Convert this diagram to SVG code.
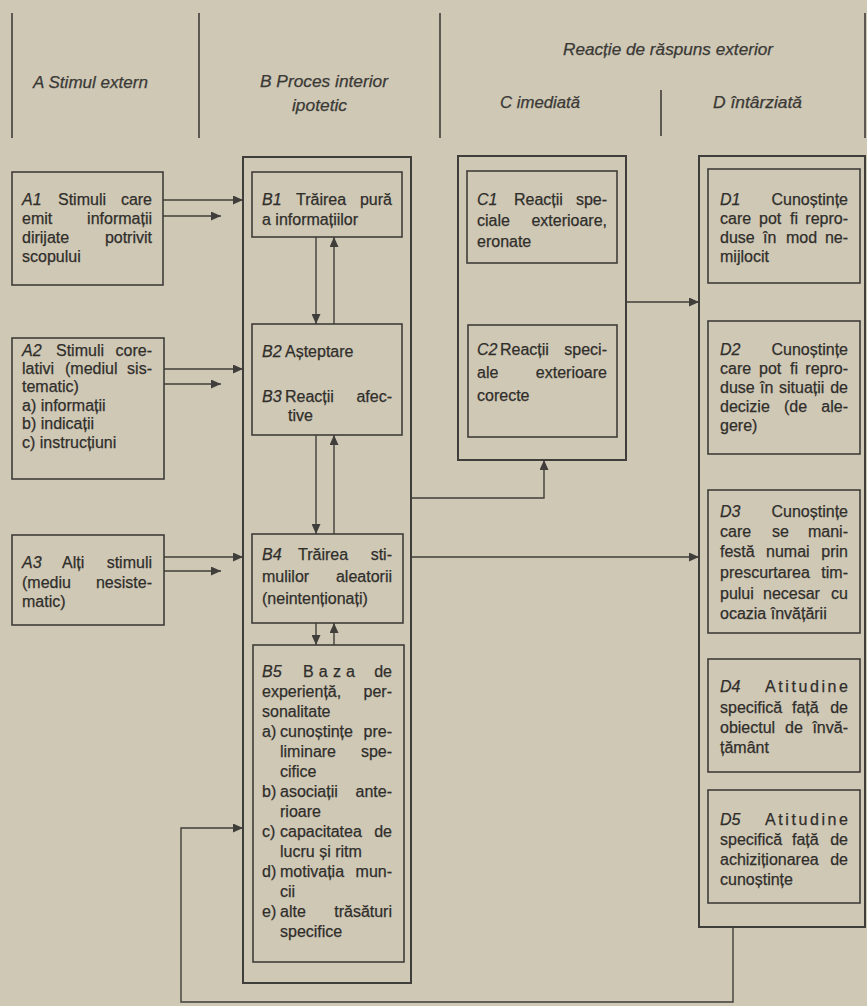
<svg xmlns="http://www.w3.org/2000/svg" width="867" height="1006" viewBox="0 0 867 1006">
  <style>
    .bg { fill: #cfc8b5; }
    .col { stroke: #3f3e3a; stroke-width: 1.6; }
    .outer { fill: none; stroke: #3f3e3a; stroke-width: 2; }
    .inner { fill: none; stroke: #3f3e3a; stroke-width: 1.6; }
    .con { fill: none; stroke: #3f3e3a; stroke-width: 1.4; }
    .h { font-family: "Liberation Sans", Arial, sans-serif; font-size: 16.5px; font-style: italic; fill: #3a3935; stroke: #3a3935; stroke-width: 0.25; }
    .t { font-family: "Liberation Sans", Arial, sans-serif; font-size: 16px; fill: #2f2e2b; stroke: #2f2e2b; stroke-width: 0.25; }
    .i { font-style: italic; }
    .e { text-anchor: end; }
  </style>
  <defs>
    <marker id="arr" markerUnits="userSpaceOnUse" markerWidth="11" markerHeight="9" refX="10" refY="4.5" orient="auto">
      <path d="M0,0 L10,4.5 L0,9 z" fill="#3f3e3a"/>
    </marker>
  </defs>

  <rect class="bg" x="0" y="0" width="867" height="1006"/>

  <!-- column header -->
  <g id="header">
    <line class="col" x1="12" y1="13" x2="12" y2="138"/>
    <line class="col" x1="199" y1="13" x2="199" y2="138"/>
    <line class="col" x1="440" y1="13" x2="440" y2="138"/>
    <line class="col" x1="661" y1="90" x2="661" y2="136"/>
    <line class="col" x1="865" y1="13" x2="865" y2="138"/>
    <text class="h" x="33" y="88" textLength="115" lengthAdjust="spacingAndGlyphs">A Stimul extern</text>
    <text class="h" x="260" y="87" textLength="128" lengthAdjust="spacingAndGlyphs">B Proces interior</text>
    <text class="h" x="292" y="111" textLength="55" lengthAdjust="spacingAndGlyphs">ipotetic</text>
    <text class="h" x="563" y="55" textLength="210" lengthAdjust="spacingAndGlyphs">Reacție de răspuns exterior</text>
    <text class="h" x="500" y="108" textLength="80" lengthAdjust="spacingAndGlyphs">C imediată</text>
    <text class="h" x="713" y="108" textLength="89" lengthAdjust="spacingAndGlyphs">D întârziată</text>
  </g>

  <!-- A: external stimuli -->
  <g id="A1">
    <rect class="inner" x="12" y="172" width="151" height="113"/>
    <text class="t" y="205"><tspan x="22" class="i">A1</tspan><tspan x="58">Stimuli</tspan><tspan x="152" class="e">care</tspan></text>
    <text class="t" y="224"><tspan x="22">emit</tspan><tspan x="152" class="e">informații</tspan></text>
    <text class="t" y="243"><tspan x="22">dirijate</tspan><tspan x="152" class="e">potrivit</tspan></text>
    <text class="t" x="22" y="262">scopului</text>
  </g>
  <g id="A2">
    <rect class="inner" x="12" y="338" width="152" height="141"/>
    <text class="t" y="356"><tspan x="22" class="i">A2</tspan><tspan x="56">Stimuli</tspan><tspan x="152" class="e">core-</tspan></text>
    <text class="t" y="374"><tspan x="22">lativi</tspan><tspan x="65">(mediul</tspan><tspan x="152" class="e">sis-</tspan></text>
    <text class="t" x="22" y="392">tematic)</text>
    <text class="t" x="22" y="411">a) informații</text>
    <text class="t" x="22" y="429">b) indicații</text>
    <text class="t" x="22" y="448">c) instrucțiuni</text>
  </g>
  <g id="A3">
    <rect class="inner" x="12" y="535" width="152" height="90"/>
    <text class="t" y="568"><tspan x="22" class="i">A3</tspan><tspan x="62">Alți</tspan><tspan x="152" class="e">stimuli</tspan></text>
    <text class="t" y="588"><tspan x="22">(mediu</tspan><tspan x="152" class="e">nesiste-</tspan></text>
    <text class="t" x="22" y="607">matic)</text>
  </g>

  <!-- B: hypothetical inner process -->
  <g id="B">
    <rect class="outer" x="243" y="157" width="168" height="826"/>
  </g>
  <g id="B1">
    <rect class="inner" x="252" y="172" width="150" height="65"/>
    <text class="t" y="205"><tspan x="262" class="i">B1</tspan><tspan x="296">Trăirea</tspan><tspan x="392" class="e">pură</tspan></text>
    <text class="t" x="262" y="225">a informațiilor</text>
  </g>
  <g id="B2">
    <rect class="inner" x="252" y="324" width="150" height="111"/>
    <text class="t" y="357"><tspan x="262" class="i">B2</tspan><tspan x="285">Așteptare</tspan></text>
    <text class="t" y="402"><tspan x="262" class="i">B3</tspan><tspan x="285">Reacții</tspan><tspan x="392" class="e">afec-</tspan></text>
    <text class="t" x="288" y="421">tive</text>
  </g>
  <g id="B4">
    <rect class="inner" x="252" y="534" width="151" height="89"/>
    <text class="t" y="560"><tspan x="262" class="i">B4</tspan><tspan x="298">Trăirea</tspan><tspan x="392" class="e">sti-</tspan></text>
    <text class="t" y="582"><tspan x="262">mulilor</tspan><tspan x="392" class="e">aleatorii</tspan></text>
    <text class="t" x="262" y="604">(neintenționați)</text>
  </g>
  <g id="B5">
    <rect class="inner" x="253" y="645" width="151" height="317"/>
    <text class="t" y="677"><tspan x="262" class="i">B5</tspan><tspan x="303" textLength="52">Baza</tspan><tspan x="392" class="e">de</tspan></text>
    <text class="t" y="697"><tspan x="262">experiență,</tspan><tspan x="392" class="e">per-</tspan></text>
    <text class="t" x="262" y="717">sonalitate</text>
    <text class="t" y="737"><tspan x="262">a)</tspan><tspan x="280">cunoștințe</tspan><tspan x="392" class="e">pre-</tspan></text>
    <text class="t" y="757"><tspan x="280">liminare</tspan><tspan x="392" class="e">spe-</tspan></text>
    <text class="t" x="280" y="777">cifice</text>
    <text class="t" y="797"><tspan x="262">b)</tspan><tspan x="280">asociații</tspan><tspan x="392" class="e">ante-</tspan></text>
    <text class="t" x="280" y="817">rioare</text>
    <text class="t" y="837"><tspan x="262">c)</tspan><tspan x="280">capacitatea</tspan><tspan x="392" class="e">de</tspan></text>
    <text class="t" x="280" y="857">lucru și ritm</text>
    <text class="t" y="877"><tspan x="262">d)</tspan><tspan x="280">motivația</tspan><tspan x="392" class="e">mun-</tspan></text>
    <text class="t" x="280" y="897">cii</text>
    <text class="t" y="917"><tspan x="262">e)</tspan><tspan x="280">alte</tspan><tspan x="392" class="e">trăsături</tspan></text>
    <text class="t" x="280" y="937">specifice</text>
  </g>

  <!-- C: immediate reaction -->
  <g id="C">
    <rect class="outer" x="458" y="156" width="168" height="304"/>
  </g>
  <g id="C1">
    <rect class="inner" x="467" y="171" width="150" height="92"/>
    <text class="t" y="205"><tspan x="477" class="i">C1</tspan><tspan x="514">Reacții</tspan><tspan x="607" class="e">spe-</tspan></text>
    <text class="t" y="226"><tspan x="477">ciale</tspan><tspan x="607" class="e">exterioare,</tspan></text>
    <text class="t" x="477" y="247">eronate</text>
  </g>
  <g id="C2">
    <rect class="inner" x="468" y="325" width="149" height="112"/>
    <text class="t" y="355"><tspan x="477" class="i">C2</tspan><tspan x="500">Reacții</tspan><tspan x="607" class="e">speci-</tspan></text>
    <text class="t" y="378"><tspan x="477">ale</tspan><tspan x="607" class="e">exterioare</tspan></text>
    <text class="t" x="477" y="401">corecte</text>
  </g>

  <!-- D: delayed reaction -->
  <g id="D">
    <rect class="outer" x="699" y="156" width="166" height="771"/>
  </g>
  <g id="D1">
    <rect class="inner" x="708" y="169" width="152" height="114"/>
    <text class="t" y="205"><tspan x="720" class="i">D1</tspan><tspan x="848" class="e">Cunoștințe</tspan></text>
    <text class="t" y="224"><tspan x="720">care</tspan><tspan x="759">pot</tspan><tspan x="790">fi</tspan><tspan x="848" class="e">repro-</tspan></text>
    <text class="t" y="243"><tspan x="720">duse</tspan><tspan x="763">în</tspan><tspan x="786">mod</tspan><tspan x="848" class="e">ne-</tspan></text>
    <text class="t" x="720" y="262">mijlocit</text>
  </g>
  <g id="D2">
    <rect class="inner" x="708" y="321" width="152" height="133"/>
    <text class="t" y="355"><tspan x="720" class="i">D2</tspan><tspan x="848" class="e">Cunoștințe</tspan></text>
    <text class="t" y="374"><tspan x="720">care</tspan><tspan x="759">pot</tspan><tspan x="790">fi</tspan><tspan x="848" class="e">repro-</tspan></text>
    <text class="t" y="393"><tspan x="720">duse</tspan><tspan x="760">în</tspan><tspan x="779">situații</tspan><tspan x="848" class="e">de</tspan></text>
    <text class="t" y="412"><tspan x="720">decizie</tspan><tspan x="784">(de</tspan><tspan x="848" class="e">ale-</tspan></text>
    <text class="t" x="720" y="431">gere)</text>
  </g>
  <g id="D3">
    <rect class="inner" x="708" y="490" width="152" height="143"/>
    <text class="t" y="517"><tspan x="720" class="i">D3</tspan><tspan x="848" class="e">Cunoștințe</tspan></text>
    <text class="t" y="537"><tspan x="720">care</tspan><tspan x="772">se</tspan><tspan x="848" class="e">mani-</tspan></text>
    <text class="t" y="557"><tspan x="720">festă</tspan><tspan x="766">numai</tspan><tspan x="848" class="e">prin</tspan></text>
    <text class="t" y="578"><tspan x="720">prescurtarea</tspan><tspan x="848" class="e">tim-</tspan></text>
    <text class="t" y="599"><tspan x="720">pului</tspan><tspan x="763">necesar</tspan><tspan x="848" class="e">cu</tspan></text>
    <text class="t" x="720" y="619">ocazia învățării</text>
  </g>
  <g id="D4">
    <rect class="inner" x="708" y="659" width="152" height="113"/>
    <text class="t" y="692"><tspan x="720" class="i">D4</tspan><tspan x="765" textLength="83">Atitudine</tspan></text>
    <text class="t" y="713"><tspan x="720">specifică</tspan><tspan x="792">față</tspan><tspan x="848" class="e">de</tspan></text>
    <text class="t" y="733"><tspan x="720">obiectul</tspan><tspan x="785">de</tspan><tspan x="848" class="e">învă-</tspan></text>
    <text class="t" x="720" y="753">țământ</text>
  </g>
  <g id="D5">
    <rect class="inner" x="708" y="790" width="152" height="113"/>
    <text class="t" y="825"><tspan x="720" class="i">D5</tspan><tspan x="765" textLength="83">Atitudine</tspan></text>
    <text class="t" y="845"><tspan x="720">specifică</tspan><tspan x="792">față</tspan><tspan x="848" class="e">de</tspan></text>
    <text class="t" y="865"><tspan x="720">achiziționarea</tspan><tspan x="848" class="e">de</tspan></text>
    <text class="t" x="720" y="885">cunoștințe</text>
  </g>

  <!-- connectors -->
  <g id="connectors">
    <line class="con" x1="163" y1="200" x2="243" y2="200" marker-end="url(#arr)"/>
    <line class="con" x1="163" y1="216" x2="221" y2="216" marker-end="url(#arr)"/>
    <line class="con" x1="164" y1="369" x2="243" y2="369" marker-end="url(#arr)"/>
    <line class="con" x1="164" y1="384" x2="221" y2="384" marker-end="url(#arr)"/>
    <line class="con" x1="164" y1="557" x2="243" y2="557" marker-end="url(#arr)"/>
    <line class="con" x1="164" y1="571" x2="221" y2="571" marker-end="url(#arr)"/>

    <line class="con" x1="316" y1="237" x2="316" y2="324" marker-end="url(#arr)"/>
    <line class="con" x1="334" y1="324" x2="334" y2="237" marker-end="url(#arr)"/>
    <line class="con" x1="316" y1="435" x2="316" y2="534" marker-end="url(#arr)"/>
    <line class="con" x1="334" y1="534" x2="334" y2="435" marker-end="url(#arr)"/>
    <line class="con" x1="316" y1="623" x2="316" y2="645" marker-end="url(#arr)"/>
    <line class="con" x1="334" y1="645" x2="334" y2="623" marker-end="url(#arr)"/>

    <polyline class="con" points="411,498 544,498 544,460" marker-end="url(#arr)"/>
    <line class="con" x1="626" y1="302" x2="699" y2="302" marker-end="url(#arr)"/>
    <line class="con" x1="411" y1="557" x2="699" y2="557" marker-end="url(#arr)"/>
    <polyline class="con" points="733,927 733,1002 181,1002 181,828 243,828" marker-end="url(#arr)"/>
  </g>
</svg>
